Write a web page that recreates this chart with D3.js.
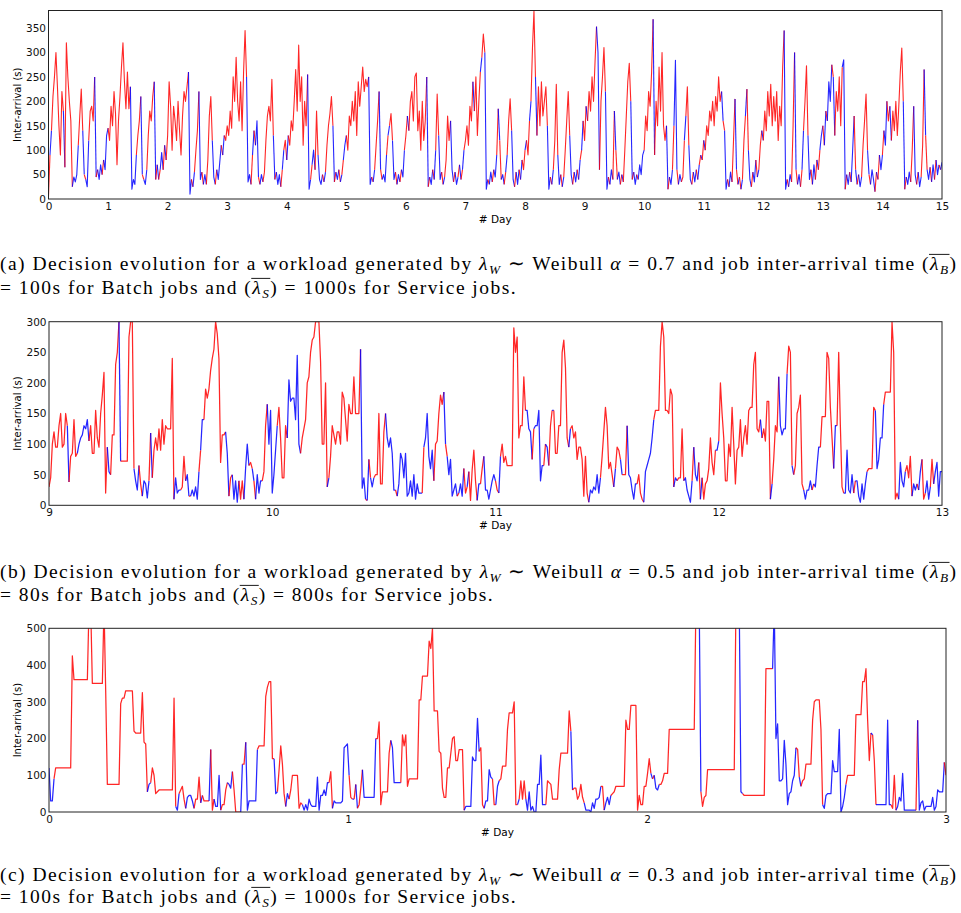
<!DOCTYPE html>
<html><head><meta charset="utf-8">
<script src="https://cdn.jsdelivr.net/npm/d3@7"></script>
<style>body{margin:0;background:#fff}svg{display:block}</style>
</head><body>
<svg id="chart" width="961" height="913"></svg>
<script>
// ---------------- DATA ----------------
// Panel (a): inter-arrival (s), sampled every 0.025 day from day 0 to 15
const aStart = 0, aStep = 0.025;
const aVals = [
 5,90,140,210,250,300,230,150,90,220,180,65,320,250,200,160,25,45,35,50,110,170,225,140,50,40,25,120,180,190,160,250,45,60,40,70,50,80,60,130,
 145,120,190,150,220,175,70,160,210,270,320,240,185,260,185,230,20,40,30,90,130,160,210,50,40,30,60,130,180,160,210,240,40,70,40,60,95,60,110,80,
 130,240,190,100,190,160,120,200,140,90,170,220,200,230,260,10,40,25,55,100,140,220,40,55,30,50,30,80,170,210,120,45,30,60,40,75,110,90,130,120,
 150,130,180,145,250,200,290,200,160,240,140,260,345,250,35,50,30,90,140,110,160,45,30,50,35,55,120,170,190,160,245,130,40,55,30,50,25,60,100,120,
 80,130,110,160,140,200,265,180,315,200,250,110,200,150,255,20,40,70,100,60,180,90,40,30,50,35,55,110,150,175,210,150,35,55,40,60,35,50,80,110,
 130,100,170,150,200,160,220,130,240,190,230,270,220,245,230,250,30,45,35,60,110,160,220,60,40,50,35,90,130,150,175,120,40,55,30,50,35,60,45,100,
 130,170,140,200,220,160,250,258,140,180,100,200,120,160,250,25,45,30,60,40,100,215,130,40,55,30,45,80,170,120,160,60,35,55,30,45,70,40,60,100,
 120,150,110,190,160,240,180,250,130,200,260,290,338,300,20,40,30,55,35,60,45,90,185,120,40,50,30,55,90,160,205,140,40,25,55,30,60,40,80,60,
 100,120,90,160,200,310,385,250,130,230,150,240,170,200,230,150,20,45,30,60,120,235,90,30,50,25,45,100,160,220,130,50,30,55,35,60,40,80,100,160,
 120,190,160,220,180,250,200,280,353,300,60,200,250,310,220,20,45,30,60,40,180,100,40,55,30,50,35,100,170,240,278,200,40,55,30,50,40,70,50,90,
 100,170,140,220,190,260,368,90,200,150,270,180,300,150,120,150,20,45,30,60,150,284,60,30,50,35,45,120,170,230,110,40,30,55,35,60,40,70,90,80,
 120,100,150,130,180,160,200,150,210,180,250,200,220,160,140,20,40,25,55,35,120,205,60,30,45,20,40,120,170,225,100,40,25,55,35,80,45,60,110,140,
 120,180,140,220,170,235,150,210,160,220,120,190,150,270,345,20,40,25,50,35,150,300,60,30,50,25,60,140,200,273,130,40,60,30,70,40,80,60,100,130,
 150,110,180,160,240,200,275,250,130,220,180,250,150,270,285,20,50,30,55,35,100,170,60,30,50,25,45,110,160,215,100,50,30,60,40,15,55,40,90,60,
 90,140,110,200,160,190,120,180,140,200,130,190,260,309,200,20,45,30,55,35,100,190,50,30,55,25,45,110,265,130,60,40,65,35,70,40,80,50,70,60,75
];
// decision per point: R = red, B = blue
const aDec = [
 "RRBRRRRRRRRBRRRRRBBBBRRRBRBBRRRRBRBBBRBB",
 "BRRRRRRRRRRRRRRRBBBBRRRBRBBRRRRRBRBRBBRB",
 "RRRRRRRRRRRRRRRBBRBRRRBBRBBRRRRBBRBBBRBR",
 "RRRRRRRRRRRRRRBBBRBRBBRBBRRRRRRRBRBBBRBR",
 "RBRRRRRRRRRRRRRBBRBBRRBBBRBRRRRRBRBBRBRB",
 "BRRRRRRRRRRRRRRRBBRBRRRBRBBBRBRRBBRBBRBB",
 "RRBRRRRRRRRRRRRBRBBRBRRBBRBRRRRBBRBBRBRB",
 "RRRRRRBRRRRBRRBBRBBRBBRBRBBRBRRRBBRBBRBR",
 "RBRRBRRRBRRRRRRRBBRBRRRBBRBRRRRBBRBBRBRB",
 "RRBRRRRRRBBRRRRBBRBBRBRBBRBRRRRRBRBBRBBB",
 "BRRRRRRBRRRRRRRRBRBBRBBRBBRRBRRBBRBBRBRB",
 "RBRRRRRRRRRRRBRBBRBBRRBRBRBRRBRBBRBBRBRR",
 "BRRRRRRRRRRRRRRBBRBBRRBRBBRBRRRBBRBBRBRB",
 "BRBRBBBRBRRRRRBBRBBRBBRBRBBRRRRBRBBBRBRB",
 "BRBBRRBRRRRRRRRBRBBBRRBBRBBRRBRBBRBBRBBRB"
];
const aXTicks = [0,1,2,3,4,5,6,7,8,9,10,11,12,13,14,15];
const aYTicks = [0,50,100,150,200,250,300,350];

// Panel (b): sampled every 1/134 day from day 9 to 13
const bStart = 9, bStep = 1/134;
const bVals = [
 30,45,100,120,95,95,130,150,95,100, 150,130,38,80,85,140,80,85,100,110,
 115,130,125,140,105,130,85,85,155,110, 95,150,180,217,20,95,55,50,115,115,
 230,250,300,72,72,72,72,72,275,300, 300,60,40,25,65,35,15,40,35,12,
 40,118,45,90,110,90,125,90,140,100, 130,125,125,125,240,10,45,20,25,25,
 30,80,40,50,15,15,25,15,30,10, 55,90,140,140,190,175,190,220,240,255,
 300,280,240,70,115,115,120,85,15,45, 50,10,40,5,40,10,40,10,60,100,
 65,70,60,40,10,50,20,40,40,55, 130,165,100,155,20,50,90,130,160,110,
 45,45,130,110,205,170,175,175,140,245, 100,85,110,125,140,200,210,250,270,275,
 300,300,300,235,100,100,200,30,45,80, 130,115,100,120,120,100,185,175,140,105,
 165,150,150,210,150,150,150,255,28,45, 10,8,75,45,30,45,50,50,150,35,
 35,120,150,110,95,110,85,25,25,15, 35,85,75,45,85,15,20,40,15,50,
 10,35,20,20,20,95,110,150,80,60, 90,40,100,105,150,180,165,185,100,80,
 50,75,15,25,35,15,20,35,15,60, 20,30,55,8,58,90,40,8,35,
 35,60,80,25,25,10,25,40,50,40, 25,20,80,100,70,80,65,65,65,65,
 290,250,275,110,130,130,210,155,155,125, 120,75,125,130,130,155,40,65,65,100,
 95,65,130,155,155,85,85,130,130,250, 270,225,110,95,125,130,110,120,75,95,
 95,75,15,80,20,5,25,20,30,25, 50,20,45,80,120,160,130,60,70,50,
 30,60,95,90,75,50,50,50,130,50, 45,25,10,35,35,50,20,10,5,55,
 65,75,85,110,140,155,155,155,260,300, 275,155,155,150,190,180,30,45,40,45,
 45,125,40,45,25,15,5,40,95,50, 40,70,10,45,10,35,40,60,110,70,
 50,90,90,105,200,150,110,40,40,100, 80,160,100,35,90,95,140,80,110,130,
 100,155,160,160,230,250,125,120,140,110, 125,105,170,170,10,35,75,130,120,210,
 130,115,125,125,215,260,250,65,50,65, 150,160,180,35,25,10,25,25,40,25,
 35,30,65,95,95,145,145,145,250,240, 160,110,60,130,130,250,130,30,20,20,
 90,25,20,50,20,40,40,15,5,35, 10,35,55,60,60,60,160,155,60,75,
 110,110,165,185,185,185,185,300,250,10, 20,10,70,40,30,55,65,45,80,15,
 35,25,35,25,55,75,10,20,40,10, 30,75,35,55,70,15,55,55
];
const bDec = [
 "BRRRRRRRRR","RRBRRRRRBB","BBBBBRRRRR","RRRRRRBBRR","RRRBRRRRRR","RRBBBRRBBB",
 "BRBRRRRRRR","RRRRRRBBBB","RRRBBRBBBB","BRBBRRRRRR","RRRRRRRBBR","RBBBBRRRBB",
 "BRRBRBBBBR","RRBBBBBBRR","RRRRBBBBBB","BBRRRRRRRR","RRRRRRRRBR","RRRRRRRRRR",
 "RRRRRRRRBB","BRBRBBRRRR","RRRBBBBBBR","BBBBBBBBBB","BBBBBRBBBB","BBRRRRRRBR",
 "BBBBBBRBBB","RRBRRRRRB",
 "BRRBBBBBBB","RRBRRRRRRR","RRRRRRRRBB","BBRBBBBBBR","BBRRBRRRRR","RRRRBRRRRR",
 "RRRRRRBBBB","BBBRRRRRRR","RBRRRBRRRB","BBBBBRRRRB","BBBBBRRRRR","RRRRRRRBBR",
 "RRRBBBBBRB","BBRBRRRRRR","RRBBRRRRRR","RRRRRRRRRR","RRRRRRRRRB","RRRRRBRRRR",
 "BBBBBRRRBR","RRRRRBBBBB","RBBBBRRRRR","RRRBBRRRRB","BBBBBRBBBB","BBBRRRRRBB",
 "BBBRRRRRRR","RRBBBBRRRR","BBBRBBRRBB","BRRBBBBB"
];
const bXTicks = [9,10,11,12,13];
const bYTicks = [0,50,100,150,200,250,300];

// Panel (c): sampled every 3/538 day from day 0 to 3
const cStart = 0, cStep = 3/538;
const cVals = [
 120,30,30,90,120,120,120,120,120,120, 120,120,120,120,425,360,360,360,360,360,
 360,360,360,360,560,560,350,350,350,350, 350,350,350,560,330,75,75,75,75,75,
 75,75,75,295,310,310,330,330,330,330, 330,220,215,215,215,215,325,190,185,55,
 75,80,120,100,50,55,60,60,60,60, 60,60,60,60,60,310,15,5,50,60,
 70,35,10,40,45,45,30,10,35,35, 95,25,45,30,30,30,30,170,5,35,
 15,15,100,5,20,20,60,80,75,65, 110,60,0,0,0,0,130,130,190,5,
 30,30,30,30,30,170,180,180,180,180, 315,340,355,355,145,145,50,55,115,180,
 130,50,15,50,35,60,100,100,100,100, 10,25,20,5,20,5,35,20,15,15,
 15,95,5,45,45,60,45,80,80,110, 10,30,25,25,25,25,30,175,180,185,
 100,40,35,35,75,10,20,65,115,40, 40,40,40,40,40,40,200,200,245,20,
 55,55,55,55,160,195,175,80,80,80, 80,80,210,180,210,70,90,90,90,90,
 90,90,305,305,370,370,370,370,465,445, 500,275,275,275,165,160,65,40,40,120,
 120,160,200,205,140,140,170,170,170,5, 15,15,15,15,150,140,140,255,165,
 175,20,10,30,30,115,95,90,20,20, 70,85,90,125,125,125,225,270,270,270,
 300,20,20,35,85,35,85,35,5,55, 5,15,0,0,75,75,155,20,20,20,
 85,80,75,35,35,35,35,115,160,160, 160,160,160,275,220,60,65,65,35,45,
 75,40,25,5,5,5,0,25,10,35, 35,40,70,70,5,25,40,20,45,50,
 55,70,70,70,70,70,70,250,225,225, 290,290,290,290,5,45,20,20,70,70,
 105,145,105,90,100,65,60,75,75,85, 105,105,105,225,225,225,225,225,225,225,
 225,225,225,225,225,225,225,225,225,560, 560,560,55,15,40,45,115,115,115,115,
 115,115,115,115,115,115,115,115,115,115, 115,115,115,560,560,560,55,50,45,45,
 45,45,45,45,45,45,45,45,45,45, 45,390,390,390,390,390,560,200,240,85,
 85,90,195,130,20,50,55,85,100,175, 170,95,70,85,90,130,130,130,130,250,
 300,305,305,305,225,20,10,45,50,50, 50,140,110,110,110,225,0,15,40,75,
 100,100,100,100,100,265,265,265,265,355, 355,390,250,140,215,210,140,20,20,20,
 20,20,20,20,250,20,20,10,100,5, 15,40,30,105,5,5,5,5,5,5,
 5,5,250,5,25,30,5,15,15,15, 15,40,5,15,60,55,55,55,135,100
];
const cDec = [
 "BBBBRRRRRR","RRRRRRRRRR","RRRRRRRRRR","RRRRRRRRRR","RRRRRRRRRR","RRRRRRRRRR",
 "BBRRRRRRRR","RRRRRRRBBR","RRRBBBBBRR","RRBRRRRBRR","BBBBRRRRBB","BRRRRRBRRB",
 "BBBBBBRRRR","RRRRRRBBRR","RRRBBRRRRR","RRRBBBBBBB","BBBBBBBBBR","RBBBBBBBBB",
 "BRRBRBRRRB","BBBBBBBRRR","RRRRRRBBBB","BBRRRRRRRR","RRRRRRRRRR","RRRRRRRRRR",
 "RRRRRRRRRR","BBBBBBBBB",
 "RRRBBBBBRR","BBRRRRRRRR","RRRBRRRRBB","BBBBBBBBBB","RRRRRRRRRR","RRRRRBRRRR",
 "RRRBBBBBBB","BBBRRBBBBR","RRRRRRRRRR","RRRRRRRRRR","RRRBRBBBRR","RRRRRRRRRR",
 "RRRRRRRRRR","RBBRRRRRRR","RRRRRRRRRR","RRRRRRBBRR","RRRRRRRRRR","RRRRRRBBBB",
 "BBBBBBBBBB","RRBRRRRRRR","RRRRRRBBBB","BBBBBBBBBB","RRRRRRRRRR","RRRRRBRRBB",
 "BBBBBBBRRR","BBBBBBBBBB","BBRBBBBBBB","BBBBBBBBBR"
];
const cXTicks = [0,1,2,3];
const cYTicks = [0,100,200,300,400,500];

// Captions
const capA1 = ["(a) Decision evolution for a workload generated by ", {m:"λ", sub:"W"}, " ∼ Weibull ", {i:"α"}, " = 0.7 and job inter-arrival time (", {m:"λ", sub:"B", ol:true}, ")"];
const capA2 = ["= 100s for Batch jobs and (", {m:"λ", sub:"S", ol:true}, ") = 1000s for Service jobs."];
const capB1 = ["(b) Decision evolution for a workload generated by ", {m:"λ", sub:"W"}, " ∼ Weibull ", {i:"α"}, " = 0.5 and job inter-arrival time (", {m:"λ", sub:"B", ol:true}, ")"];
const capB2 = ["= 80s for Batch jobs and (", {m:"λ", sub:"S", ol:true}, ") = 800s for Service jobs."];
const capC1 = ["(c) Decision evolution for a workload generated by ", {m:"λ", sub:"W"}, " ∼ Weibull ", {i:"α"}, " = 0.3 and job inter-arrival time (", {m:"λ", sub:"B", ol:true}, ")"];
const capC2 = ["= 100s for Batch jobs and (", {m:"λ", sub:"S", ol:true}, ") = 1000s for Service jobs."];

// ---------------- DRAWING ----------------
const svg = d3.select('#chart');
const COL = {R:'#ff0000', B:'#0000ff'};
const TICKFONT = 'DejaVu Sans, sans-serif';
const CAPFONT = 'Liberation Serif, Times New Roman, serif';

const panels = [
 {id:'a', L:48.5, R:942, T:10.5, B:199, xDom:[0,15], yDom:[0,386], xTicks:aXTicks, yTicks:aYTicks,
  start:aStart, step:aStep, vals:aVals, dec:aDec.join(''), xlabY:222.5, sw:1.1,
  cap:[capA1,capA2], capY:[270,294]},
 {id:'b', L:49, R:942, T:321.7, B:505.3, xDom:[9,13], yDom:[0,300], xTicks:bXTicks, yTicks:bYTicks,
  start:bStart, step:bStep, vals:bVals, dec:bDec.join(''), xlabY:529, sw:1.25,
  cap:[capB1,capB2], capY:[578,601]},
 {id:'c', L:49, R:946, T:628.3, B:812, xDom:[0,3], yDom:[0,500], xTicks:cXTicks, yTicks:cYTicks,
  start:cStart, step:cStep, vals:cVals, dec:cDec.join(''), xlabY:836, sw:1.25,
  cap:[capC1,capC2], capY:[881,903]}
];

panels.forEach(p => {
  const x = d3.scaleLinear().domain(p.xDom).range([p.L, p.R]);
  const y = d3.scaleLinear().domain(p.yDom).range([p.B, p.T]);
  const g = svg.append('g');
  const clipId = 'clip-' + p.id;
  svg.append('clipPath').attr('id', clipId).append('rect')
    .attr('x', p.L).attr('y', p.T).attr('width', p.R - p.L).attr('height', p.B - p.T);

  const pts = p.vals.map((v, i) => ({d: p.start + i * p.step, v: v, c: p.dec[i] || 'R'}));
  const line = d3.line().x(d => x(d.d)).y(d => y(d.v));
  const lg = g.append('g').attr('clip-path', `url(#${clipId})`);
  let s = 1;
  for (let i = 2; i <= pts.length; i++) {
    if (i === pts.length || pts[i].c !== pts[s].c) {
      lg.append('path').attr('d', line(pts.slice(s - 1, i)))
        .attr('fill', 'none').attr('stroke', COL[pts[s].c])
        .attr('stroke-width', p.sw).attr('stroke-opacity', 0.85)
        .attr('stroke-linejoin', 'round');
      s = i;
    }
  }

  // frame
  g.append('rect').attr('x', p.L).attr('y', p.T).attr('width', p.R - p.L).attr('height', p.B - p.T)
    .attr('fill', 'none').attr('stroke', '#222').attr('stroke-width', 1);

  // axes
  const xa = g.append('g').attr('transform', `translate(0,${p.B})`)
    .call(d3.axisBottom(x).tickValues(p.xTicks).tickSize(0).tickPadding(3.5).tickFormat(d3.format('d')));
  const ya = g.append('g').attr('transform', `translate(${p.L},0)`)
    .call(d3.axisLeft(y).tickValues(p.yTicks).tickSize(0).tickPadding(2.5).tickFormat(d3.format('d')));
  [xa, ya].forEach(a => {
    a.select('.domain').remove();
    a.selectAll('text').attr('font-family', TICKFONT).attr('font-size', 10.5).attr('fill', '#111');
  });

  // axis labels
  g.append('text').attr('transform', `translate(20.5,${(p.T + p.B) / 2}) rotate(-90)`)
    .attr('text-anchor', 'middle').attr('font-family', TICKFONT).attr('font-size', 10).attr('fill', '#000')
    .text('Inter-arrival (s)');
  g.append('text').attr('x', (p.L + p.R) / 2).attr('y', p.xlabY)
    .attr('text-anchor', 'middle').attr('font-family', TICKFONT).attr('font-size', 10.5).attr('fill', '#000')
    .text('# Day');

  // caption: fixed font size, letter-spacing fitted so the first line spans the page width
  const cg = svg.append('g');
  const fs = 19.5;
  const render = (ls) => {
    cg.selectAll('*').remove();
    const info = [];
    p.cap.forEach((parts, li) => {
      const t = cg.append('text').attr('x', 0).attr('y', p.capY[li])
        .attr('font-family', CAPFONT).attr('font-size', fs).attr('fill', '#000')
        .attr('letter-spacing', ls);
      let pending = 0;
      const ols = [];
      const add = (txt) => {
        const ts = t.append('tspan').text(txt);
        if (pending) { ts.attr('dy', pending); pending = 0; }
        return ts;
      };
      parts.forEach(pt => {
        if (typeof pt === 'string') add(pt);
        else if (pt.i) add(pt.i).attr('font-style', 'italic');
        else {
          const a = add(pt.m).attr('font-style', 'italic');
          const sh = fs * 0.2;
          const b = t.append('tspan').attr('font-style', 'italic').attr('font-size', fs * 0.68)
            .attr('dy', sh).text(pt.sub);
          pending = -sh;
          if (pt.ol) ols.push([a, b]);
        }
      });
      const n = t.node();
      info.push({len: n.getComputedTextLength(), chars: n.getNumberOfChars()});
      ols.forEach(([a, b]) => {
        const ba = a.node().getBBox(), bb = b.node().getBBox();
        const yy = p.capY[li] - fs * 0.8;
        cg.append('line').attr('x1', ba.x).attr('x2', bb.x + bb.width)
          .attr('y1', yy).attr('y2', yy).attr('stroke', '#000').attr('stroke-width', 0.9);
      });
    });
    return info;
  };
  const info = render(0);
  const ls = Math.max(0, (956 - info[0].len) / (info[0].chars - 1));
  render(ls);
});
</script>
</body></html>
